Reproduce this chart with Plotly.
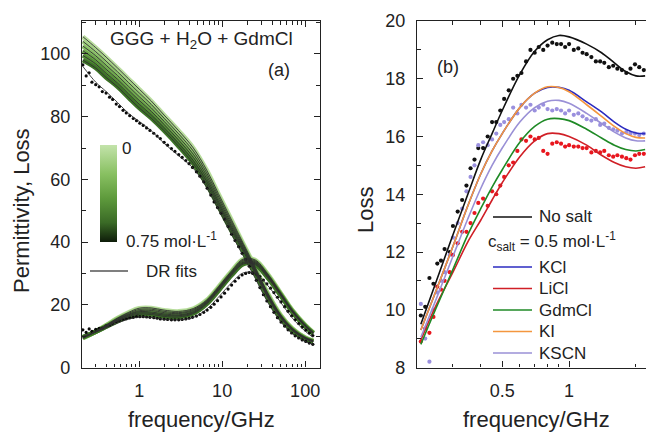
import math
import plotly.graph_objects as go

# ---------------- Panel (a): GGG + H2O + GdmCl ----------------
F_A = [0.21, 0.3, 0.4, 0.55, 0.75, 1.0, 1.4, 2.0, 3.0, 4.5, 6.5, 9.0, 13, 18, 25, 35, 50, 70, 100, 125]
CONC = [0, 0.125, 0.25, 0.375, 0.5, 0.625]
GREENS = ["#b9dd9e", "#a2cf82", "#88bf66", "#6ea84c", "#558f37", "#3c7226"]

PERM_FITS = [
    [105.5, 102.0, 99.0, 95.5, 92.0, 88.8, 85.0, 80.5, 75.5, 70.0, 63.0, 55.5, 47.0, 39.5, 32.0, 24.0, 17.0, 12.5, 9.6, 8.6],
    [104.0, 100.7, 97.7, 94.3, 90.8, 87.6, 83.9, 79.5, 74.5, 69.0, 62.1, 54.7, 46.3, 39.0, 31.6, 23.7, 16.8, 12.4, 9.5, 8.5],
    [102.5, 99.4, 96.4, 93.1, 89.6, 86.4, 82.8, 78.5, 73.5, 68.0, 61.2, 53.9, 45.6, 38.5, 31.2, 23.4, 16.6, 12.2, 9.4, 8.4],
    [101.0, 98.1, 95.1, 91.9, 88.4, 85.2, 81.7, 77.5, 72.5, 67.0, 60.3, 53.1, 44.9, 38.0, 30.8, 23.1, 16.4, 12.1, 9.3, 8.4],
    [99.5, 96.8, 93.8, 90.7, 87.2, 84.0, 80.6, 76.5, 71.5, 66.0, 59.4, 52.3, 44.2, 37.5, 30.4, 22.8, 16.2, 11.9, 9.2, 8.3],
    [98.0, 95.5, 92.5, 89.5, 86.0, 82.8, 79.5, 75.5, 70.5, 65.0, 58.5, 51.5, 43.5, 37.0, 30.0, 22.5, 16.0, 11.8, 9.1, 8.2],
]
LOSS_FITS = [
    [9.3, 11.5, 13.5, 15.8, 17.6, 18.9, 19.0, 18.3, 17.9, 18.8, 21.5, 25.7, 30.8, 34.6, 34.3, 30.0, 24.0, 18.3, 13.6, 11.2],
    [9.4, 11.5, 13.4, 15.6, 17.3, 18.5, 18.6, 17.9, 17.5, 18.5, 21.2, 25.4, 30.5, 34.3, 34.0, 29.8, 23.8, 18.2, 13.5, 11.1],
    [9.5, 11.5, 13.3, 15.4, 17.0, 18.1, 18.2, 17.5, 17.2, 18.2, 21.0, 25.2, 30.2, 34.0, 33.7, 29.5, 23.7, 18.1, 13.4, 11.0],
    [9.5, 11.4, 13.2, 15.2, 16.8, 17.8, 17.7, 17.1, 16.8, 17.8, 20.7, 24.9, 30.0, 33.6, 33.4, 29.3, 23.5, 17.9, 13.3, 11.0],
    [9.6, 11.4, 13.1, 15.0, 16.5, 17.4, 17.3, 16.7, 16.5, 17.5, 20.5, 24.7, 29.7, 33.3, 33.1, 29.0, 23.4, 17.8, 13.2, 10.9],
    [9.7, 11.4, 13.0, 14.8, 16.2, 17.0, 16.9, 16.3, 16.1, 17.2, 20.2, 24.4, 29.4, 33.0, 32.8, 28.8, 23.2, 17.7, 13.1, 10.8],
]
# 0.75 mol/L: fit and measured points
PERM_075_FIT = [96.0, 91.0, 88.0, 84.5, 81.0, 78.5, 75.5, 71.5, 67.5, 63.5, 57.5, 50.5, 42.5, 35.5, 28.5, 21.0, 14.8, 10.8, 8.3, 7.4]
LOSS_075_FIT = [10.0, 11.3, 12.6, 14.2, 15.4, 16.1, 16.0, 15.4, 15.2, 16.0, 18.6, 22.4, 27.0, 30.2, 30.0, 26.3, 21.0, 15.8, 11.6, 9.6]

F_075 = [0.21, 0.23, 0.25, 0.27, 0.3, 0.33, 0.36, 0.4, 0.44, 0.48, 0.53, 0.58, 0.64, 0.7, 0.77, 0.85,
         0.93, 1.02, 1.12, 1.23, 1.35, 1.5, 1.65, 1.8, 2.0, 2.2, 2.45, 2.7, 3.0, 3.3, 3.65, 4.0, 4.4,
         4.9, 5.4, 6.0, 6.6, 7.3, 8.0, 8.8, 9.7, 10.7, 11.8, 13, 14.3, 15.8, 17.4, 19.2, 21.2, 23.4,
         25.8, 28.5, 31.4, 34.6, 38.2, 42.1, 46.4, 51.2, 56.5, 62.3, 68.7, 75.8, 83.6, 92.2, 101.7,
         112.2, 123.8]
PERM_075_DATA = [96.5, 93.0, 94.0, 91.0, 90.2, 89.5, 88.0, 87.5, 86.2, 85.5, 84.0, 83.2, 82.0, 81.2,
                 80.3, 79.4, 78.7, 77.9, 77.2, 76.4, 75.6, 74.7, 73.8, 73.0, 71.8, 70.9, 69.8, 68.9,
                 67.9, 67.0, 66.0, 65.0, 63.8, 62.4, 61.0, 59.2, 57.2, 55.0, 52.8, 51.0, 49.2, 47.3,
                 45.0, 42.5, 40.5, 38.5, 36.4, 34.5, 32.3, 30.0, 27.8, 25.5, 23.2, 21.2, 19.4, 17.6,
                 15.9, 14.5, 13.2, 12.0, 11.0, 10.1, 9.4, 8.8, 8.3, 7.8, 7.4]
LOSS_075_DATA = [12.0, 11.2, 12.3, 11.5, 12.2, 12.5, 12.6, 13.3, 13.4, 14.0, 14.6, 15.0, 15.3, 15.6,
                 15.9, 16.0, 16.2, 16.2, 16.2, 16.1, 16.0, 15.9, 15.7, 15.5, 15.4, 15.3, 15.2, 15.2,
                 15.2, 15.3, 15.5, 15.7, 16.0, 16.4, 16.9, 17.6, 18.3, 19.2, 20.2, 21.3, 22.5, 23.7,
                 25.0, 26.3, 27.5, 28.6, 29.5, 30.0, 30.3, 30.2, 29.8, 29.0, 27.9, 26.7, 25.3, 23.9,
                 22.4, 20.9, 19.4, 17.9, 16.5, 15.2, 14.0, 12.9, 11.9, 11.0, 10.2]

# ---------------- Panel (b): loss, 0.5 mol/L salts ----------------
F_B = [0.215, 0.25, 0.3, 0.35, 0.4, 0.45, 0.5, 0.6, 0.7, 0.8, 0.9, 1.0, 1.2, 1.4, 1.6, 1.8, 2.0, 2.2]
FIT_NOSALT = [9.5, 10.9, 12.6, 14.0, 15.2, 16.1, 16.9, 18.15, 18.95, 19.35, 19.5, 19.45, 19.2, 18.9, 18.55, 18.25, 18.1, 18.1]
FIT_KCL = [9.3, 10.6, 12.2, 13.6, 14.7, 15.5, 16.1, 17.0, 17.5, 17.7, 17.7, 17.6, 17.2, 16.85, 16.5, 16.25, 16.12, 16.1]
FIT_LICL = [8.95, 10.1, 11.3, 12.35, 13.1, 13.8, 14.4, 15.3, 15.85, 16.1, 16.1, 16.0, 15.7, 15.35, 15.1, 14.95, 14.9, 14.95]
FIT_GDMCL = [8.8, 10.0, 11.4, 12.6, 13.5, 14.25, 14.85, 15.8, 16.35, 16.6, 16.62, 16.55, 16.25, 15.95, 15.7, 15.55, 15.5, 15.55]
FIT_KI = [9.3, 10.6, 12.2, 13.6, 14.7, 15.5, 16.1, 17.0, 17.5, 17.72, 17.7, 17.55, 17.1, 16.7, 16.35, 16.1, 15.97, 15.95]
FIT_KSCN = [9.05, 10.3, 11.85, 13.15, 14.2, 15.0, 15.6, 16.5, 17.0, 17.22, 17.25, 17.15, 16.8, 16.45, 16.15, 15.95, 15.85, 15.85]

F_B_DATA = [0.215, 0.225, 0.235, 0.245, 0.255, 0.265, 0.275, 0.29, 0.30, 0.315, 0.33, 0.345, 0.36,
            0.375, 0.39, 0.41, 0.43, 0.45, 0.47, 0.49, 0.51, 0.535, 0.56, 0.585, 0.61, 0.64, 0.67,
            0.70, 0.73, 0.765, 0.80, 0.84, 0.88, 0.92, 0.96, 1.0, 1.05, 1.10, 1.15, 1.2, 1.26, 1.32,
            1.38, 1.44, 1.51, 1.58, 1.65, 1.73, 1.81, 1.89, 1.98, 2.07, 2.17]
DATA_NOSALT = [9.8, 10.1, 11.1, 10.9, 11.6, 11.7, 12.1, 12.0, 12.9, 13.4, 13.8, 14.3, 14.9, 15.2,
               15.6, 15.6, 16.0, 16.5, 16.5, 16.9, 17.3, 17.6, 18.0, 18.1, 18.2, 18.6, 19.0, 18.9,
               19.1, 19.0, 19.15, 19.25, 19.2, 19.2, 19.1, 19.2, 19.0, 19.05, 18.9, 18.85, 18.75,
               18.6, 18.6, 18.55, 18.4, 18.45, 18.35, 18.3, 18.2, 18.35, 18.5, 18.4, 18.3]
DATA_KSCN = [10.2, 9.0, 8.2, 10.0, 10.6, 11.0, 11.3, 11.9, 12.5, 13.0, 13.5, 14.1, 14.6, 15.0,
             15.7, 15.8, 15.7, 15.9, 16.1, 16.4, 16.5, 16.6, 17.0, 16.8, 17.1, 17.0, 17.1, 16.9,
             17.0, 17.1, 16.95, 16.9, 16.95, 16.9, 16.8, 16.9, 16.75, 16.8, 16.7, 16.6, 16.55,
             16.6, 16.4, 16.45, 16.3, 16.25, 16.2, 16.1, 16.15, 16.1, 16.1, 16.05, 16.1]
DATA_LICL = [8.9, 9.35, 9.2, 9.75, 10.8, 10.7, 11.0, 11.3, 11.9, 12.3, 12.7, 12.7, 13.0, 13.35,
             13.7, 13.85, 13.6, 14.1, 14.0, 14.3, 14.6, 15.0, 15.1, 15.5, 15.9, 15.85, 16.0, 15.9,
             15.95, 15.5, 15.4, 15.75, 15.8, 15.75, 15.65, 15.7, 15.65, 15.65, 15.6, 15.6, 15.45,
             15.5, 15.45, 15.5, 15.35, 15.3, 15.35, 15.3, 15.25, 15.2, 15.35, 15.4, 15.4]

SALTS = ["KCl", "LiCl", "GdmCl", "KI", "KSCN"]
SALT_FITS = [FIT_KCL, FIT_LICL, FIT_GDMCL, FIT_KI, FIT_KSCN]
SALT_COLORS = ["#2b2bc0", "#d01f26", "#1f8a26", "#f4963f", "#9a90d6"]

FONT = "Liberation Sans, Arial, sans-serif"
INK = "#222222"
W, H = 646, 432


def px(x):
    return x / W


def py(y):
    return 1 - y / H


fig = go.Figure()

# --- panel (a) traces ---
for perm, loss, col in zip(PERM_FITS, LOSS_FITS, GREENS):
    for ys in (perm, loss):
        fig.add_trace(go.Scatter(x=F_A, y=ys, mode="lines", line=dict(color=col, width=4.5, shape="spline"),
                                 hoverinfo="skip", xaxis="x", yaxis="y"))
fig.add_trace(go.Scatter(x=F_075, y=PERM_075_DATA, mode="markers", marker=dict(color="#0a0a0a", size=3.2),
                         xaxis="x", yaxis="y"))
fig.add_trace(go.Scatter(x=F_075, y=LOSS_075_DATA, mode="markers", marker=dict(color="#0a0a0a", size=3.2),
                         xaxis="x", yaxis="y"))
for perm, loss in zip(PERM_FITS + [PERM_075_FIT], LOSS_FITS + [LOSS_075_FIT]):
    for ys in (perm, loss):
        fig.add_trace(go.Scatter(x=F_A, y=ys, mode="lines", name="DR fits",
                                 line=dict(color="#303030", width=0.9, shape="spline"), xaxis="x", yaxis="y"))

# colour bar for concentration
fig.add_trace(go.Scatter(
    x=[F_A[0]] * len(CONC), y=[None] * len(CONC), mode="markers", xaxis="x", yaxis="y",
    marker=dict(color=CONC, cmin=0, cmax=0.625,
                colorscale=[[0, "#0e1c09"], [0.2, "#3a6a26"], [0.45, "#5e9a3c"], [0.7, "#88c061"], [1, "#c3e3aa"]],
                showscale=True,
                colorbar=dict(x=px(100), xanchor="left", y=py(193.5), yanchor="middle",
                              thickness=17, lenmode="pixels", len=97, xpad=0, ypad=0,
                              outlinewidth=0, showticklabels=False, ticks=""))))

# --- panel (b) traces ---
fig.add_trace(go.Scatter(x=F_B_DATA, y=DATA_NOSALT, mode="markers", marker=dict(color="#111111", size=4.2),
                         xaxis="x2", yaxis="y2"))
fig.add_trace(go.Scatter(x=F_B_DATA, y=DATA_KSCN, mode="markers", marker=dict(color="#9a90de", size=4.2),
                         xaxis="x2", yaxis="y2"))
fig.add_trace(go.Scatter(x=F_B_DATA, y=DATA_LICL, mode="markers", marker=dict(color="#e8161e", size=4.2),
                         xaxis="x2", yaxis="y2"))
fig.add_trace(go.Scatter(x=F_B, y=FIT_NOSALT, mode="lines", name="No salt",
                         line=dict(color="#111111", width=1.6, shape="spline"), xaxis="x2", yaxis="y2"))
for name, ys, col in zip(SALTS, SALT_FITS, SALT_COLORS):
    fig.add_trace(go.Scatter(x=F_B, y=ys, mode="lines", name=name, line=dict(color=col, width=1.6, shape="spline"),
                             xaxis="x2", yaxis="y2"))
fig.update_traces(showlegend=False)


# --- axes ---
def xax(domain, rng, minor_vals, major_vals, labels, anchor):
    return dict(type="log", domain=domain, range=rng, anchor=anchor, showline=True, linecolor=INK, linewidth=1.3,
                mirror="ticks", ticks="inside", ticklen=6, tickwidth=1.3, tickcolor=INK,
                tickmode="array", tickvals=major_vals, ticktext=labels, showgrid=False, zeroline=False,
                tickfont=dict(size=18, color=INK, family=FONT), ticklabelstandoff=7,
                minor=dict(ticks="inside", ticklen=3.5, tickwidth=1.1, tickcolor=INK, showgrid=False,
                           tickmode="array", tickvals=minor_vals))


def yax(rng, dtick, anchor, mirror):
    return dict(domain=[1 - 367.5 / H, 1 - 21 / H], range=rng, anchor=anchor, showline=True, linecolor=INK,
                linewidth=1.3, mirror=mirror, ticks="inside", ticklen=6, tickwidth=1.3, tickcolor=INK,
                dtick=dtick, showgrid=False, zeroline=False,
                tickfont=dict(size=18, color=INK, family=FONT), ticklabelstandoff=7,
                minor=dict(ticks="inside", ticklen=3.5, tickwidth=1.1, tickcolor=INK, dtick=dtick / 2,
                           showgrid=False))


MINOR_A = [0.3, 0.4, 0.5, 0.6, 0.7, 0.8, 0.9, 2, 3, 4, 5, 6, 7, 8, 9, 20, 30, 40, 50, 60, 70, 80, 90]
MINOR_B = [0.3, 0.4, 0.6, 0.7, 0.8, 0.9, 2]

fig.update_layout(
    width=W, height=H, autosize=False, margin=dict(l=0, r=0, t=0, b=0, autoexpand=False),
    paper_bgcolor="white", plot_bgcolor="white", font=dict(family=FONT, color=INK), showlegend=False,
    xaxis=xax([px(82), px(320)], [math.log10(0.205), math.log10(151)], MINOR_A, [1, 10, 100],
              ["1", "10", "100"], "y"),
    xaxis2=xax([px(417), 1.0], [math.log10(0.2066), math.log10(2.22)], MINOR_B, [0.5, 1], ["0.5", "1"], "y2"),
    yaxis=yax([0, 110.5], 20, "x", "ticks"),
    yaxis2=yax([8, 20], 2, "x2", False),
)

# --- legend-like keys (drawn in paper space) ---
shapes = []
annotations = []


def text(t, x, y, size, xanchor="left", angle=0):
    annotations.append(dict(text=t, x=px(x), y=py(y), xref="paper", yref="paper", xanchor=xanchor,
                            yanchor="middle", showarrow=False, textangle=angle,
                            font=dict(size=size, color=INK, family=FONT)))


def key(x0, x1, y, color, width=1.6):
    shapes.append(dict(type="line", xref="paper", yref="paper", x0=px(x0), x1=px(x1), y0=py(y), y1=py(y),
                       line=dict(color=color, width=width)))


key(493, 532, 217, "#111111")
text("No salt", 537, 217, 17)
text("c<sub>salt</sub> = 0.5 mol·L<sup>-1</sup>", 486, 241, 17)
for i, (name, col) in enumerate(zip(SALTS, SALT_COLORS)):
    yy = 267 + 21.5 * i
    key(493, 532, yy, col)
    text(name, 537, yy, 17)

key(90, 128, 271, "#555555", 1.4)
text("DR fits", 144, 271, 17)

text("GGG + H<sub>2</sub>O + GdmCl", 201, 40, 19, "center")
text("(a)", 279, 70, 18, "center")
text("(b)", 448, 67, 18, "center")
text("0", 120, 148, 17)
text("0.75 mol·L<sup>-1</sup>", 124, 240, 17)
text("frequency/GHz", 201, 419, 22, "center")
text("frequency/GHz", 536, 419, 22, "center")
text("Permittivity, Loss", 21, 211, 22, "center", -90)
text("Loss", 365, 210, 22, "center", -90)

fig.update_layout(shapes=shapes, annotations=annotations)

fig.write_html("out.html", config={"displayModeBar": False},
               post_script="document.body.style.margin='0px';")
